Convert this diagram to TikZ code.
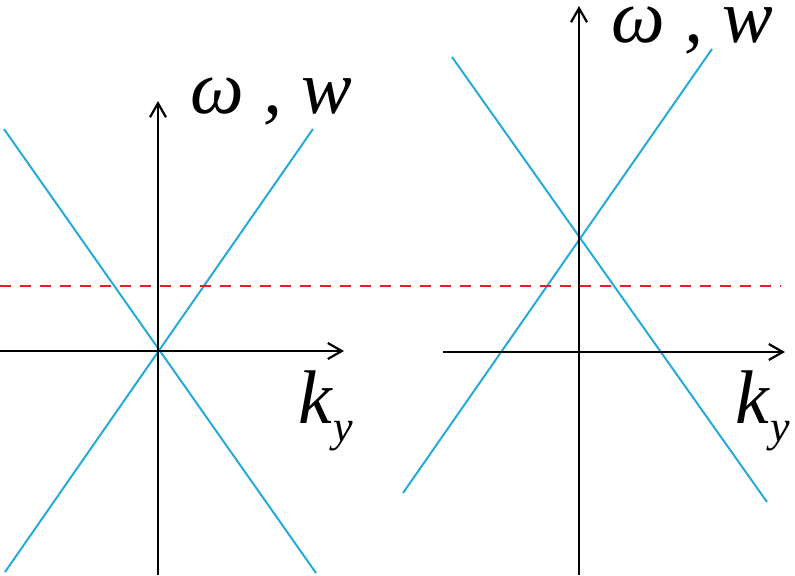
\documentclass[tikz,border=0pt]{standalone}
\usepackage{fontspec}
\setmainfont{Liberation Serif}
\usetikzlibrary{arrows.meta}
\definecolor{branch}{RGB}{38,170,222}
\definecolor{level}{RGB}{228,30,36}
\tikzset{
  axis/.style={line width=1.3pt, black, -{Straight Barb[length=7pt,width=8pt,line width=1.1pt]}},
  cone/.style={line width=1pt, branch},
  fermi/.style={line width=1.2pt, level, dash pattern=on 5.5pt off 4.5pt},
  lbl/.style={inner sep=0pt, anchor=base west, text height=0.5em, font=\fontsize{38}{38}\selectfont\itshape},
  sub/.style={inner sep=0pt, anchor=base west, font=\fontsize{22}{22}\selectfont\itshape}
}
\begin{document}
\begin{tikzpicture}[x=0.5pt,y=-0.5pt]
\useasboundingbox (0,0) rectangle (795,575);
% left diagram
\coordinate (LvB) at (158,575);
\coordinate (LvT) at (158,101);
\coordinate (LhL) at (0,351);
\coordinate (LhR) at (344,351);
\coordinate (La1) at (5,572);
\coordinate (La2) at (313,129);
\coordinate (Lb1) at (4,129);
\coordinate (Lb2) at (316,573);
\draw[cone] (La1) -- (La2);
\draw[cone] (Lb1) -- (Lb2);
\draw[axis] (LvB) -- (LvT);
\draw[axis] (LhL) -- (LhR);
% right diagram
\coordinate (RvB) at (579,575);
\coordinate (RvT) at (579,6);
\coordinate (RhL) at (443,352);
\coordinate (RhR) at (785,352);
\coordinate (Ra1) at (403,493);
\coordinate (Ra2) at (712,49);
\coordinate (Rb1) at (452,57);
\coordinate (Rb2) at (767,502);
\draw[cone] (Ra1) -- (Ra2);
\draw[cone] (Rb1) -- (Rb2);
\draw[axis] (RvB) -- (RvT);
\draw[axis] (RhL) -- (RhR);
% dashed level
\coordinate (DL) at (0,286);
\coordinate (DR) at (781,286);
\draw[fermi] (DL) -- (DR);
% labels
\node[lbl] (Lom) at (190,113) {ω , w};
\node[lbl] (Lk) at (298,423) {k};
\node[sub] (Ly) at (333,441) {y};
\node[lbl] (Rom) at (611,42) {ω , w};
\node[lbl] (Rk) at (735,423) {k};
\node[sub] (Ry) at (770,441) {y};
\end{tikzpicture}
\end{document}
